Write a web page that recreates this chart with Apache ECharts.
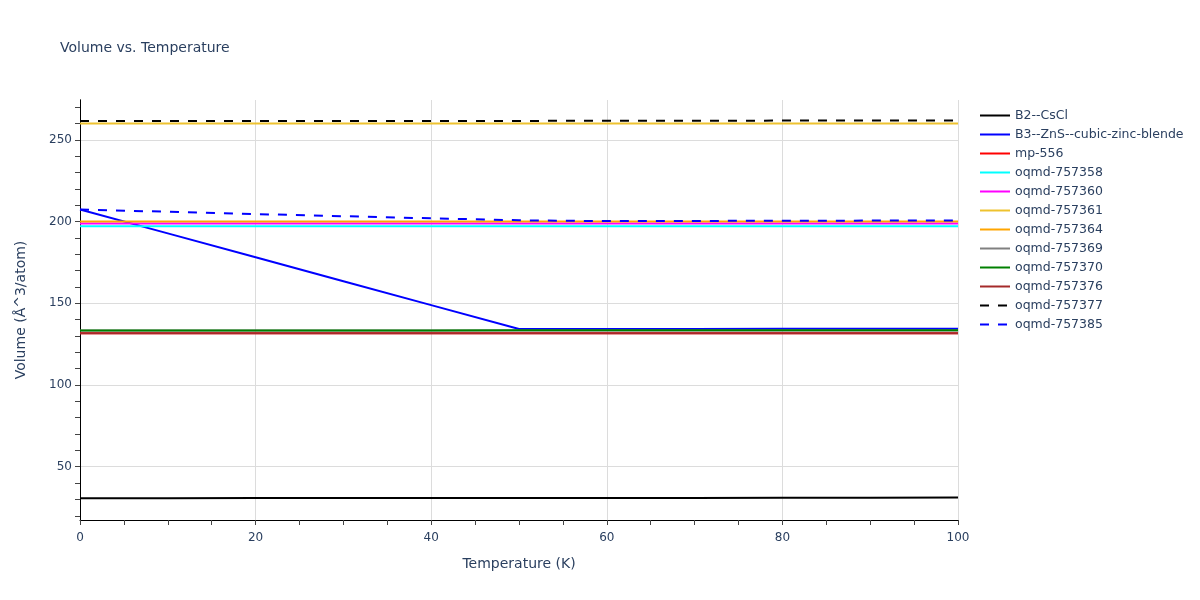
<!DOCTYPE html>
<html>
<head>
<meta charset="utf-8">
<script src="https://cdn.jsdelivr.net/npm/echarts@6/dist/echarts.min.js"></script>
<style>html,body{margin:0;padding:0;background:#fff}#c{width:1200px;height:600px}</style>
</head>
<body>
<div id="c"></div>
<script>
const temperatures = [0,10,20,30,40,50,60,70,80,90,100];
const seriesNames = ['B2--CsCl','B3--ZnS--cubic-zinc-blende','mp-556','oqmd-757358','oqmd-757360','oqmd-757361','oqmd-757364','oqmd-757369','oqmd-757370','oqmd-757376','oqmd-757377','oqmd-757385'];
const vB2 = [30.7,30.7,30.8,30.8,30.8,30.9,30.9,30.9,31.0,31.0,31.1];
const vB3 = [207.4,192.8,178.2,163.5,148.9,134.3,134.3,134.3,134.4,134.4,134.4];
const vMp556 = [131.6,131.6,131.6,131.6,131.6,131.6,131.6,131.6,131.6,131.6,131.6];
const v757358 = [197.2,197.2,197.2,197.2,197.2,197.2,197.2,197.2,197.2,197.2,197.2];
const v757360 = [198.9,198.9,198.9,198.9,198.9,198.9,198.9,198.9,198.9,198.9,198.9];
const v757361 = [260.0,260.0,260.0,260.0,260.0,260.0,260.0,260.0,260.0,260.0,260.0];
const v757364 = [200.0,200.0,200.0,200.0,200.0,200.0,200.0,200.0,200.1,200.1,200.1];
const v757369 = [133.4,133.4,133.4,133.4,133.4,133.4,133.4,133.4,133.4,133.4,133.4];
const v757370 = [133.4,133.4,133.4,133.4,133.4,133.5,133.5,133.5,133.5,133.5,133.5];
const v757376 = [131.6,131.6,131.6,131.6,131.6,131.6,131.6,131.6,131.6,131.6,131.6];
const v757377 = [261.5,261.5,261.5,261.6,261.6,261.6,261.7,261.7,261.8,261.8,261.9];
const v757385 = [207.4,206.0,204.6,203.3,202.0,200.8,200.3,200.4,200.5,200.6,200.7];
const allValues = [vB2,vB3,vMp556,v757358,v757360,v757361,v757364,v757369,v757370,v757376,v757377,v757385];
const colors = ['#000000','#0000ff','#ff0000','#00ffff','#ff00ff','#eec22f','#ffa500','#808080','#008000','#a52a2a','#000000','#0000ff'];
const dashed = [false,false,false,false,false,false,false,false,false,false,true,true];
const yMajorTicks = [50,100,150,200,250];
const yMinorTicks = [20,30,40,50,60,70,80,90,100,110,120,130,140,150,160,170,180,190,200,210,220,230,240,250,260,270];
const yMin = 17.4, yMax = 274.4;

const txt = '#2a3f5f';
const font = '"DejaVu Sans", Verdana, sans-serif';

const series = seriesNames.map((n, i) => ({
  name: n,
  type: 'line',
  yAxisIndex: 0,
  showSymbol: false,
  symbol: 'none',
  animation: false,
  data: temperatures.map((t, k) => [t, allValues[i][k]]),
  lineStyle: { color: colors[i], width: 2, type: dashed[i] ? [9, 9] : 'solid' },
  itemStyle: { color: colors[i] }
}));

const chart = echarts.init(document.getElementById('c'));
chart.setOption({
  animation: false,
  backgroundColor: '#fff',
  textStyle: { fontFamily: font },
  title: {
    text: 'Volume vs. Temperature',
    left: 55, top: 36,
    textStyle: { fontSize: 14, fontWeight: 'normal', color: txt, fontFamily: font }
  },
  legend: {
    left: 974, top: 104, orient: 'vertical',
    itemWidth: 30, itemHeight: 14, itemGap: 6,
    itemStyle: { opacity: 0 },
    textStyle: { fontSize: 12.5, color: txt, fontFamily: font },
    data: seriesNames
  },
  grid: { left: 80, right: 242, top: 100, bottom: 80, containLabel: false },
  xAxis: {
    type: 'value', min: 0, max: 100, interval: 20,
    name: 'Temperature (K)', nameLocation: 'middle', nameGap: 37,
    nameTextStyle: { fontSize: 14, color: txt, fontFamily: font },
    axisLine: { show: true, onZero: false, lineStyle: { color: '#000', width: 1 } },
    axisTick: { show: true, length: 5, lineStyle: { color: '#444' } },
    minorTick: { show: true, splitNumber: 4, length: 5, lineStyle: { color: '#444' } },
    axisLabel: { fontSize: 12, color: txt, margin: 12, fontFamily: font },
    splitLine: { show: true, lineStyle: { color: '#dcdcdc', width: 1 } }
  },
  yAxis: [
    {
      type: 'value', min: yMin, max: yMax, position: 'left',
      name: 'Volume (Å^3/atom)', nameLocation: 'middle', nameGap: 52,
      nameTextStyle: { fontSize: 14, color: txt, fontFamily: font },
      axisLine: { show: true, onZero: false, lineStyle: { color: '#000', width: 1 } },
      axisTick: { show: true, length: 5, customValues: yMajorTicks, lineStyle: { color: '#444' } },
      axisLabel: { fontSize: 12, color: txt, margin: 8, customValues: yMajorTicks, fontFamily: font },
      splitLine: { show: true, lineStyle: { color: '#dcdcdc', width: 1 } }
    },
    {
      type: 'value', min: yMin, max: yMax, position: 'left', offset: 0,
      axisLine: { show: true, onZero: false, lineStyle: { color: '#000', width: 1 } },
      axisTick: { show: true, length: 5, customValues: yMinorTicks, lineStyle: { color: '#444' } },
      axisLabel: { show: false },
      splitLine: { show: false }
    }
  ],
  series: series
});
</script>
</body>
</html>
